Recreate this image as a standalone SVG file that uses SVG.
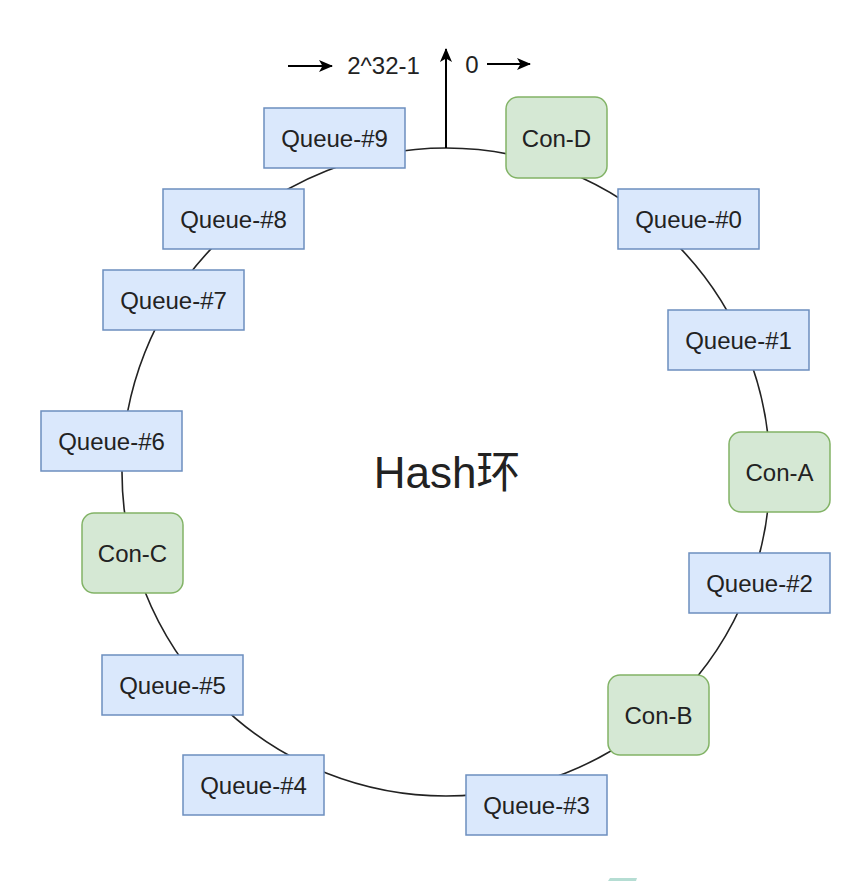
<svg xmlns="http://www.w3.org/2000/svg" width="867" height="881" viewBox="0 0 867 881">
<style>
.q rect{fill:#dae8fc;stroke:#6c8ebf;stroke-width:1.5}
.c rect{fill:#d5e8d4;stroke:#82b366;stroke-width:1.5}
text{font-family:"Liberation Sans",Arial,sans-serif;font-size:24px;fill:#222;text-anchor:middle}
.line{fill:none;stroke:#222;stroke-width:1.6}
.arr{fill:none;stroke:#000;stroke-width:2}
</style>
<defs>
<marker id="ah" viewBox="0 0 14 12" refX="13" refY="6" markerWidth="14" markerHeight="12" markerUnits="userSpaceOnUse" orient="auto">
<path d="M0,0 L14,6 L0,12 L3.5,6 Z" fill="#000"/>
</marker>
</defs>
<rect width="867" height="881" fill="#fff"/>
<g id="connectors">
<circle class="line" cx="446" cy="472" r="324"/>
<line class="arr" x1="446" y1="148" x2="446" y2="49" marker-end="url(#ah)"/>
<line class="arr" x1="288" y1="66" x2="332" y2="66" marker-end="url(#ah)"/>
<line class="arr" x1="487" y1="64" x2="530" y2="64" marker-end="url(#ah)"/>
</g>
<g id="labels">
<text x="383.5" y="74">2^32-1</text>
<text x="472" y="73">0</text>
<text x="447" y="488" style="font-size:44px;font-family:'Liberation Sans','Noto Sans CJK SC',sans-serif">Hash环</text>
</g>
<g id="q9" class="q"><rect x="264" y="108" width="141" height="60"/><text x="334.5" y="147">Queue-#9</text></g>
<g id="cond" class="c"><rect x="506" y="97" width="101" height="81" rx="12"/><text x="556.5" y="146.5">Con-D</text></g>
<g id="q0" class="q"><rect x="618" y="189" width="141" height="60"/><text x="688.5" y="228">Queue-#0</text></g>
<g id="q1" class="q"><rect x="668" y="310" width="141" height="60"/><text x="738.5" y="349">Queue-#1</text></g>
<g id="cona" class="c"><rect x="729" y="432" width="101" height="80" rx="12"/><text x="779.5" y="481">Con-A</text></g>
<g id="q2" class="q"><rect x="689" y="553" width="141" height="60"/><text x="759.5" y="592">Queue-#2</text></g>
<g id="conb" class="c"><rect x="608" y="675" width="101" height="80" rx="12"/><text x="658.5" y="724">Con-B</text></g>
<g id="q3" class="q"><rect x="466" y="775" width="141" height="60"/><text x="536.5" y="814">Queue-#3</text></g>
<g id="q4" class="q"><rect x="183" y="755" width="141" height="60"/><text x="253.5" y="794">Queue-#4</text></g>
<g id="q5" class="q"><rect x="102" y="655" width="141" height="60"/><text x="172.5" y="694">Queue-#5</text></g>
<g id="conc" class="c"><rect x="82" y="513" width="101" height="80" rx="12"/><text x="132.5" y="562">Con-C</text></g>
<g id="q6" class="q"><rect x="41" y="411" width="141" height="60"/><text x="111.5" y="450">Queue-#6</text></g>
<g id="q7" class="q"><rect x="103" y="270" width="141" height="60"/><text x="173.5" y="309">Queue-#7</text></g>
<g id="q8" class="q"><rect x="163" y="189" width="141" height="60"/><text x="233.5" y="228">Queue-#8</text></g>
<polygon points="610,878 637,878 636,881 608,881" fill="#b5ddd3"/>
</svg>
